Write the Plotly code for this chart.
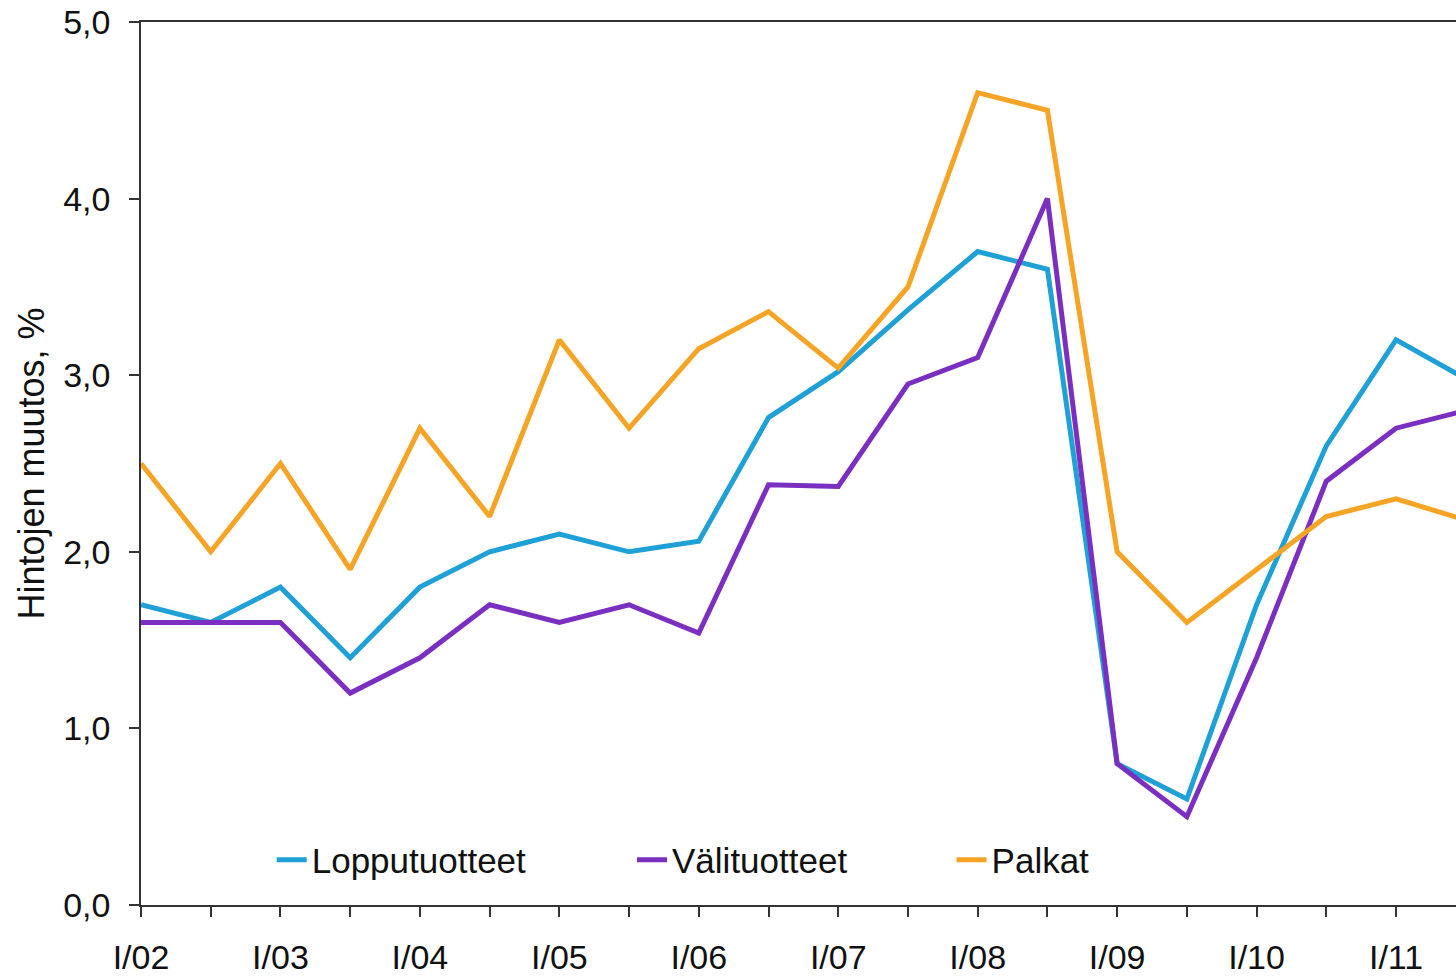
import plotly.graph_objects as go

periods = ["I/02", "II/02", "I/03", "II/03", "I/04", "II/04", "I/05", "II/05",
           "I/06", "II/06", "I/07", "II/07", "I/08", "II/08", "I/09", "II/09",
           "I/10", "II/10", "I/11", "II/11"]
lopputuotteet = [1.7, 1.6, 1.8, 1.4, 1.8, 2.0, 2.1, 2.0, 2.06, 2.76, 3.02, 3.37,
                 3.7, 3.6, 0.8, 0.6, 1.7, 2.6, 3.2, 2.98]
valituotteet = [1.6, 1.6, 1.6, 1.2, 1.4, 1.7, 1.6, 1.7, 1.54, 2.38, 2.37, 2.95,
                3.1, 4.0, 0.8, 0.5, 1.4, 2.4, 2.7, 2.8]
palkat = [2.5, 2.0, 2.5, 1.9, 2.7, 2.2, 3.2, 2.7, 3.15, 3.36, 3.04, 3.5,
          4.6, 4.5, 2.0, 1.6, 1.9, 2.2, 2.3, 2.18]
ytick_vals = [0, 1, 2, 3, 4, 5]
ytick_text = ["0,0", "1,0", "2,0", "3,0", "4,0", "5,0"]

FONT = "Liberation Sans, Arial, sans-serif"
series = [
    ("Lopputuotteet", lopputuotteet, "#1FA0D6", "legend"),
    ("Välituotteet", valituotteet, "#7B2FC0", "legend2"),
    ("Palkat", palkat, "#F5A425", "legend3"),
]

fig = go.Figure()
for name, vals, col, lg in series:
    fig.add_trace(go.Scatter(x=periods, y=vals, mode="lines", name=name,
                             line=dict(color=col, width=5), legend=lg, showlegend=True))

legend_common = dict(orientation="h", yanchor="middle", y=0.051, xanchor="left",
                     bgcolor="rgba(0,0,0,0)", font=dict(family=FONT, size=35, color="#111"),
                     itemwidth=30, tracegroupgap=0)
fig.update_layout(
    width=1456, height=976,
    showlegend=True,
    margin=dict(l=141, r=0, t=22, b=71, autoexpand=False),
    paper_bgcolor="white", plot_bgcolor="white",
    font=dict(family=FONT, color="#111"),
    legend=dict(x=0.0994, **legend_common),
    legend2=dict(x=0.3734, **legend_common),
    legend3=dict(x=0.6164, **legend_common),
    xaxis=dict(type="category", range=[0, 18.86], tickmode="array",
               tickvals=periods,
               ticktext=[p if p.startswith("I/") else "" for p in periods],
               ticks="outside", ticklen=10, tickwidth=1.5, tickcolor="#333",
               showline=True, linecolor="#333", linewidth=1.5, mirror=True,
               showgrid=False, zeroline=False, automargin=False,
               ticklabeloverflow="allow",
               tickfont=dict(family=FONT, size=34, color="#111"),
               ticklabelstandoff=11),
    yaxis=dict(range=[0, 5], tickmode="array", tickvals=ytick_vals, ticktext=ytick_text,
               ticks="outside", ticklen=10, tickwidth=1.5, tickcolor="#333",
               showline=True, linecolor="#333", linewidth=1.5,
               showgrid=False, zeroline=False, automargin=False,
               ticklabeloverflow="allow",
               tickfont=dict(family=FONT, size=34, color="#111"),
               ticklabelstandoff=12,
               title=dict(text="Hintojen muutos, %", font=dict(family=FONT, size=36, color="#111"),
                          standoff=8)),
)
fig.write_html("out.html", config={"displayModeBar": False},
               post_script="document.body.style.margin='0';document.body.style.overflow='hidden';")
